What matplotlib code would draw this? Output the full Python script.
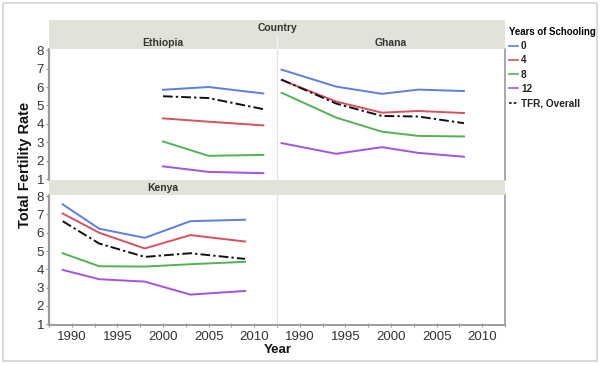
import matplotlib
matplotlib.use("Agg")
import matplotlib.pyplot as plt
from matplotlib.patches import Rectangle
from matplotlib.lines import Line2D
from matplotlib.ticker import MultipleLocator

plt.rcParams['font.family'] = ['Liberation Sans', 'DejaVu Sans']

# ---- data ----
eth_years = [2000, 2005, 2011]
eth_0 = [5.85, 6.0, 5.65]
eth_4 = [4.3, 4.12, 3.92]
eth_8 = [3.05, 2.27, 2.32]
eth_12 = [1.7, 1.4, 1.33]
eth_tfr = [5.5, 5.4, 4.8]

gha_years = [1988, 1994, 1999, 2003, 2008]
gha_0 = [6.94, 6.02, 5.63, 5.86, 5.78]
gha_4 = [6.38, 5.21, 4.61, 4.70, 4.59]
gha_8 = [5.69, 4.34, 3.58, 3.35, 3.32]
gha_12 = [2.96, 2.38, 2.74, 2.43, 2.22]
gha_tfr = [6.4, 5.1, 4.43, 4.4, 4.04]

ken_years = [1989, 1993, 1998, 2003, 2009]
ken_0 = [7.55, 6.22, 5.72, 6.63, 6.71]
ken_4 = [7.05, 6.0, 5.14, 5.87, 5.52]
ken_8 = [4.88, 4.17, 4.15, 4.28, 4.41]
ken_12 = [3.97, 3.46, 3.33, 2.62, 2.82]
ken_tfr = [6.63, 5.41, 4.68, 4.88, 4.57]

series_labels = ['0', '4', '8', '12', 'TFR, Overall']
colors = ['#5a7fe0', '#d9505e', '#52b352', '#a452e6', '#111111']
x_ticks = [1990, 1995, 2000, 2005, 2010]
y_ticks = [1, 2, 3, 4, 5, 6, 7, 8]

W, H = 600, 365
fig = plt.figure(figsize=(6, 3.65), dpi=100)

def fx(px):
    return px / W

def fy(py):
    return 1 - py / H

# outer border
fig.patches.append(Rectangle((fx(3), fy(361)), fx(594), (358) / H, transform=fig.transFigure,
                             fill=False, edgecolor='#d4d4d4', linewidth=1.2))

band_color = '#e3e2d8'
def band(x0, y0, x1, y1):
    fig.patches.append(Rectangle((fx(x0), fy(y1)), fx(x1 - x0), (y1 - y0) / H,
                                 transform=fig.transFigure, facecolor=band_color,
                                 edgecolor='none', zorder=0))

band(49, 20, 505, 35)
band(49, 35.5, 505, 49)
band(49, 180, 505, 195)
# divider in header band
fig.add_artist(Line2D([fx(277), fx(277)], [fy(49), fy(35.5)], color='#f4f4f0', lw=1))

hdr = dict(fontsize=7.5, fontweight='bold', color='#333333', ha='center', va='center')
fig.text(fx(277), fy(28), 'Country', **hdr)
fig.text(fx(163), fy(42.5), 'Ethiopia', **hdr)
fig.text(fx(391), fy(42.5), 'Ghana', **hdr)
fig.text(fx(163), fy(188), 'Kenya', **hdr)

lx0, lx1, rx1 = 49, 277, 505
top = (49, 180)
bot = (195, 325)

def make_ax(x0, x1, y0, y1):
    return fig.add_axes([fx(x0), fy(y1), fx(x1 - x0), (y1 - y0) / H])

ax_e = make_ax(lx0, lx1, *top)
ax_g = make_ax(lx1, rx1, *top)
ax_k = make_ax(lx0, lx1, *bot)
ax_x = make_ax(lx1, rx1, *bot)

def plot_country(ax, yrs, vals):
    for v, c, lab in zip(vals, colors, series_labels):
        if lab.startswith('TFR'):
            ax.plot(yrs, v, color=c, lw=1.4, dashes=(5, 1.6, 1.2, 1.6), zorder=3)
        else:
            ax.plot(yrs, v, color=c, lw=1.4, zorder=2)

plot_country(ax_e, eth_years, [eth_0, eth_4, eth_8, eth_12, eth_tfr])
plot_country(ax_g, gha_years, [gha_0, gha_4, gha_8, gha_12, gha_tfr])
plot_country(ax_k, ken_years, [ken_0, ken_4, ken_8, ken_12, ken_tfr])

for ax in (ax_e, ax_g, ax_k, ax_x):
    ax.set_xlim(1987.5, 2012.5)
    ax.set_ylim(0.96, 8.06)
    ax.set_facecolor('white')
    for s in ('top', 'right', 'left', 'bottom'):
        ax.spines[s].set_visible(False)
    ax.set_xticks(x_ticks)
    ax.xaxis.set_minor_locator(MultipleLocator(2.5))
    ax.set_yticks(y_ticks)
    ax.tick_params(axis='both', which='both', colors='#999999', labelcolor='#333333',
                   labelsize=9.5, length=2, width=0.8, pad=1.5)

for ax in (ax_e, ax_k):
    ax.spines['left'].set_visible(True)
    ax.spines['left'].set_color('#9c9c9c')
    ax.spines['left'].set_linewidth(1.6)
for ax in (ax_g, ax_x):
    ax.spines['left'].set_visible(True)
    ax.spines['left'].set_color('#e2e2e2')
    ax.spines['left'].set_linewidth(0.8)
    ax.spines['right'].set_visible(True)
    ax.spines['right'].set_color('#a8a8a8')
    ax.spines['right'].set_linewidth(1.4)
    ax.tick_params(axis='y', which='both', left=False, labelleft=False)
for ax in (ax_k, ax_x):
    ax.spines['bottom'].set_visible(True)
    ax.spines['bottom'].set_color('#9c9c9c')
    ax.spines['bottom'].set_linewidth(1.4)
    ax.tick_params(axis='x', which='both', direction='inout', length=3, pad=3)
for ax in (ax_e, ax_g):
    ax.tick_params(axis='x', which='both', bottom=False, labelbottom=False)
for ax in (ax_e, ax_k, ax_x):
    ax.tick_params(axis='y', which='minor', left=False)

fig.text(fx(25), fy(165), 'Total Fertility Rate', rotation=90, fontsize=10.5,
         fontweight='bold', color='#111111', ha='center', va='center')
fig.text(fx(278), fy(350), 'Year', fontsize=9.5, fontweight='bold', color='#111111',
         ha='center', va='center')

# legend
handles = []
for c, lab in zip(colors, series_labels):
    if lab.startswith('TFR'):
        handles.append(Line2D([], [], color=c, lw=1.2, dashes=(1.6, 1.2)))
    else:
        handles.append(Line2D([], [], color=c, lw=1.2))
leg = fig.legend(handles, series_labels, loc='upper left',
                 bbox_to_anchor=(fx(507), fy(25)), frameon=False,
                 title='Years of Schooling', alignment='left',
                 handlelength=0.9, handletextpad=0.3, labelspacing=0.42,
                 prop={'size': 7.2, 'weight': 'bold'},
                 title_fontproperties={'size': 6.9, 'weight': 'bold'},
                 borderaxespad=0, borderpad=0.2)
for t in leg.get_texts():
    t.set_color('#222222')

fig.savefig('out.png', dpi=100, facecolor='white')
